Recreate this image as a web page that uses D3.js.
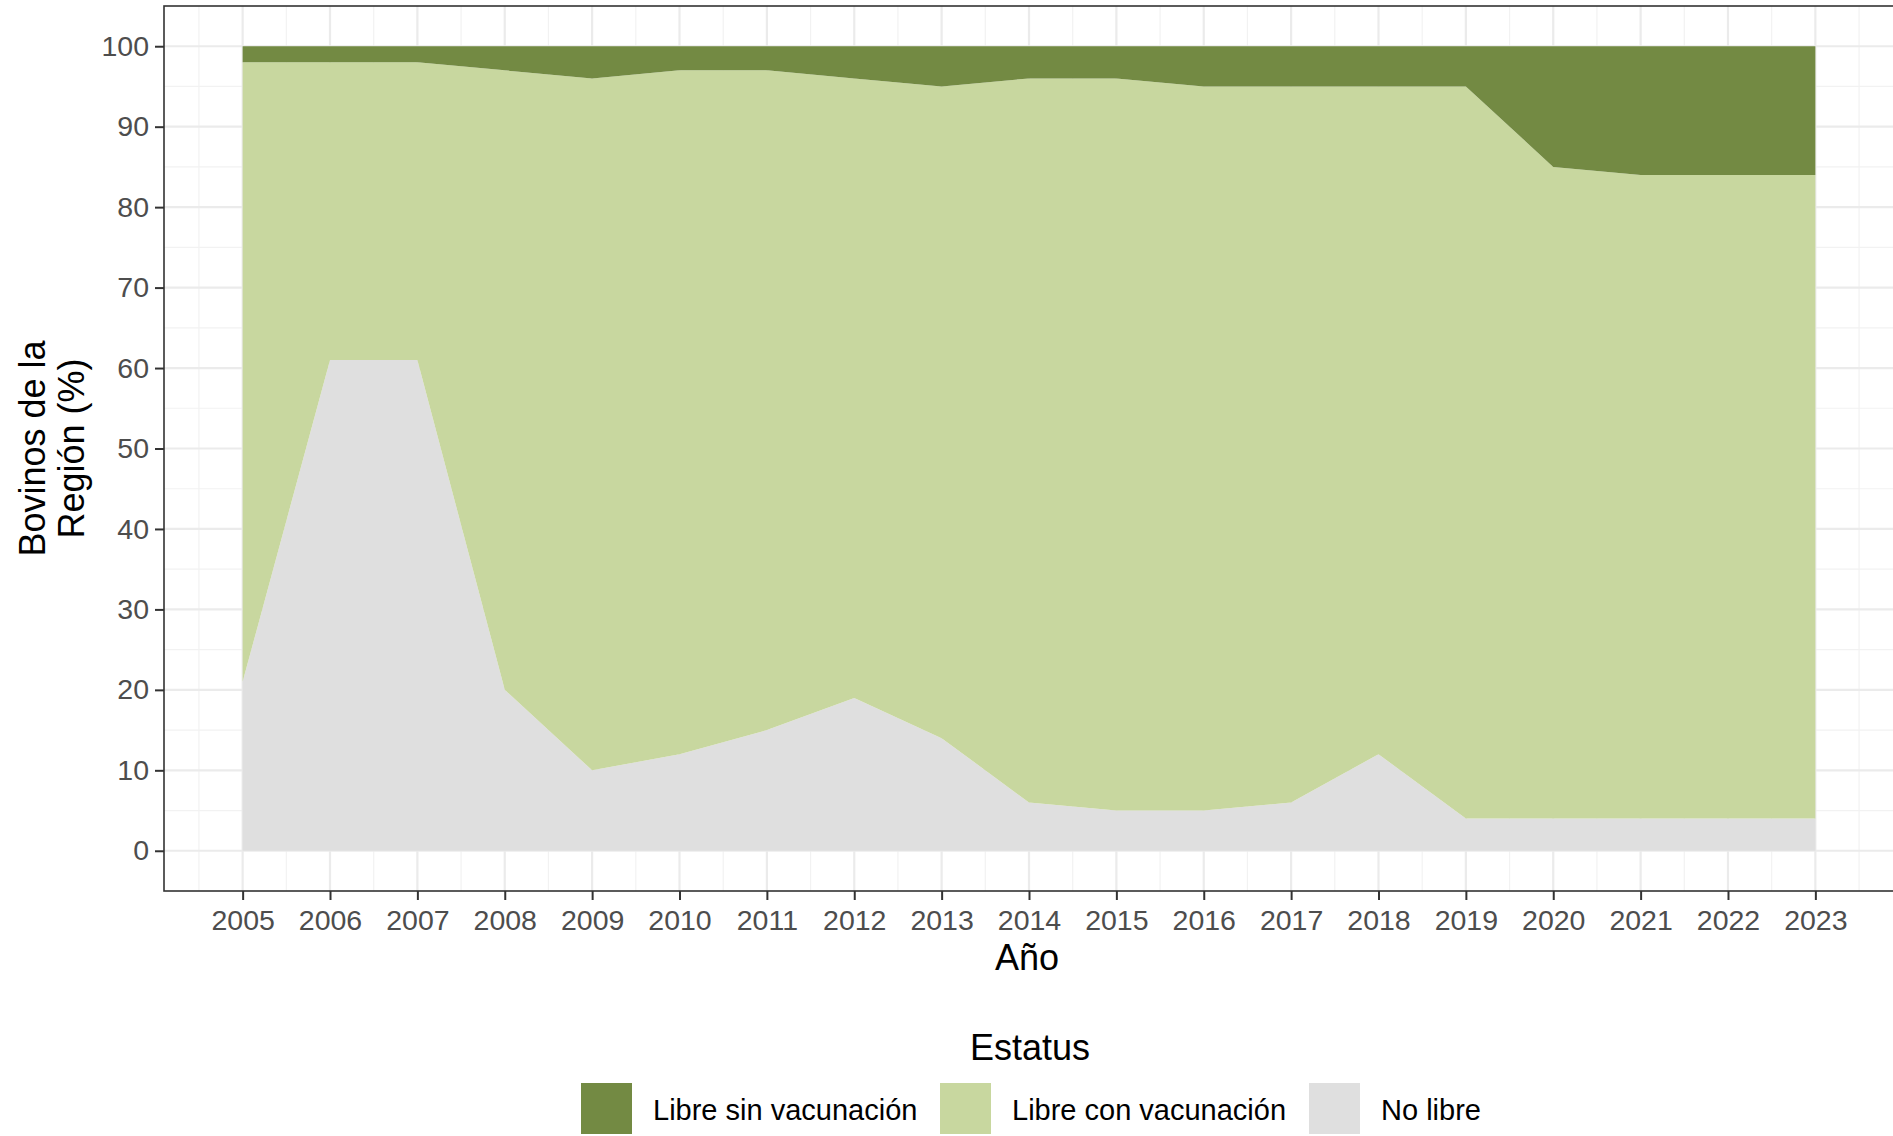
<!DOCTYPE html>
<meta charset="utf-8">
<html>
<script src="https://d3js.org/d3.v7.min.js"></script>
<style>
    body { margin: 0; background: #ffffff; }
    text { font-family: "Liberation Sans", Arial, sans-serif; }
</style>
<body>
<div id="chart"></div>
<script>
// data (percent of cattle per status)
var years = [2005, 2006, 2007, 2008, 2009, 2010, 2011, 2012, 2013, 2014,
             2015, 2016, 2017, 2018, 2019, 2020, 2021, 2022, 2023];
var noLibre       = [21, 61, 61, 20, 10, 12, 15, 19, 14, 6, 5, 5, 6, 12, 4, 4, 4, 4, 4];
var conVacunacion = [77, 37, 37, 77, 86, 85, 82, 77, 81, 90, 91, 90, 89, 83, 91, 81, 80, 80, 80];
var sinVacunacion = [2, 2, 2, 3, 4, 3, 3, 4, 5, 4, 4, 5, 5, 5, 5, 15, 16, 16, 16];

var statusKeys = ["noLibre", "conVacunacion", "sinVacunacion"];
var legendLabels = ["Libre sin vacunación", "Libre con vacunación", "No libre"];
var legendKeys = ["sinVacunacion", "conVacunacion", "noLibre"];
var yTicks = [0, 10, 20, 30, 40, 50, 60, 70, 80, 90, 100];

var colors = {
    sinVacunacion: "#738a43",
    conVacunacion: "#c8d79f",
    noLibre: "#dfdfdf"
};

var width = 1893, height = 1136;
var panel = { left: 164, right: 1894, top: 6, bottom: 891 };

var svg = d3.select("#chart").append("svg")
    .attr("width", width)
    .attr("height", height);

// scales with ggplot-like 5% expansion
var x = d3.scaleLinear().domain([2004.1, 2023.9]).range([panel.left, panel.right]);
var y = d3.scaleLinear().domain([-5, 105]).range([panel.bottom, panel.top]);

var rows = years.map(function (yr, i) {
    return { year: yr, noLibre: noLibre[i], conVacunacion: conVacunacion[i], sinVacunacion: sinVacunacion[i] };
});
var series = d3.stack().keys(statusKeys)(rows);

// grid
var grid = svg.append("g");
var xMinor = years.map(function (d) { return d - 0.5; }).concat([2023.5]);
var yMinor = d3.range(5, 100, 10);
grid.selectAll(".xminor").data(xMinor).enter().append("line")
    .attr("x1", function (d) { return x(d); }).attr("x2", function (d) { return x(d); })
    .attr("y1", panel.top).attr("y2", panel.bottom)
    .attr("stroke", "#f2f2f2").attr("stroke-width", 1.2);
grid.selectAll(".yminor").data(yMinor).enter().append("line")
    .attr("y1", function (d) { return y(d); }).attr("y2", function (d) { return y(d); })
    .attr("x1", panel.left).attr("x2", panel.right)
    .attr("stroke", "#f2f2f2").attr("stroke-width", 1.2);
grid.selectAll(".xmajor").data(years).enter().append("line")
    .attr("x1", function (d) { return x(d); }).attr("x2", function (d) { return x(d); })
    .attr("y1", panel.top).attr("y2", panel.bottom)
    .attr("stroke", "#ebebeb").attr("stroke-width", 2.2);
grid.selectAll(".ymajor").data(yTicks).enter().append("line")
    .attr("y1", function (d) { return y(d); }).attr("y2", function (d) { return y(d); })
    .attr("x1", panel.left).attr("x2", panel.right)
    .attr("stroke", "#ebebeb").attr("stroke-width", 2.2);

// stacked areas
var area = d3.area()
    .x(function (d) { return x(d.data.year); })
    .y0(function (d) { return y(d[0]); })
    .y1(function (d) { return y(d[1]); });

svg.append("g").selectAll("path")
    .data(series).enter().append("path")
    .attr("fill", function (d) { return colors[d.key]; })
    .attr("d", area);

// panel border
svg.append("rect")
    .attr("x", panel.left).attr("y", panel.top)
    .attr("width", panel.right - panel.left).attr("height", panel.bottom - panel.top)
    .attr("fill", "none").attr("stroke", "#333333").attr("stroke-width", 1.6);

// axes
var xAxis = svg.append("g")
    .attr("transform", "translate(0," + panel.bottom + ")")
    .call(d3.axisBottom(x).tickValues(years).tickFormat(d3.format("d")).tickSize(9).tickPadding(10).tickSizeOuter(0));
var yAxis = svg.append("g")
    .attr("transform", "translate(" + panel.left + ",0)")
    .call(d3.axisLeft(y).tickValues(yTicks).tickSize(9).tickPadding(6).tickSizeOuter(0));

[xAxis, yAxis].forEach(function (a) {
    a.select(".domain").remove();
    a.selectAll(".tick line").attr("stroke", "#333333").attr("stroke-width", 2);
    a.selectAll(".tick text")
        .attr("fill", "#4d4d4d")
        .style("font-size", "28.5px")
        .style("font-family", "'Liberation Sans', Arial, sans-serif");
});

// axis titles
svg.append("text")
    .attr("x", (panel.left + panel.right) / 2 - 2).attr("y", 970)
    .attr("text-anchor", "middle")
    .style("font-size", "36px").attr("fill", "#000")
    .text("Año");

var yTitle = svg.append("text")
    .attr("transform", "translate(0," + ((panel.top + panel.bottom) / 2) + ") rotate(-90)")
    .attr("text-anchor", "middle")
    .style("font-size", "36px").attr("fill", "#000");
yTitle.append("tspan").attr("x", 0).attr("y", 45).text("Bovinos de la");
yTitle.append("tspan").attr("x", 0).attr("y", 84).text("Región (%)");

// legend
svg.append("text")
    .attr("x", 1030).attr("y", 1060)
    .attr("text-anchor", "middle")
    .style("font-size", "36px").attr("fill", "#000")
    .text("Estatus");

var legendX = [581, 940, 1309];
var legend = svg.append("g").selectAll("g")
    .data(legendKeys).enter().append("g")
    .attr("transform", function (d, i) { return "translate(" + legendX[i] + ",1083)"; });
legend.append("rect")
    .attr("width", 51).attr("height", 51)
    .attr("fill", function (d) { return colors[d]; });
legend.append("text")
    .attr("x", 72).attr("y", 27).attr("dy", "0.35em")
    .style("font-size", "29px").attr("fill", "#000")
    .text(function (d, i) { return legendLabels[i]; });
</script>
</body>
</html>
